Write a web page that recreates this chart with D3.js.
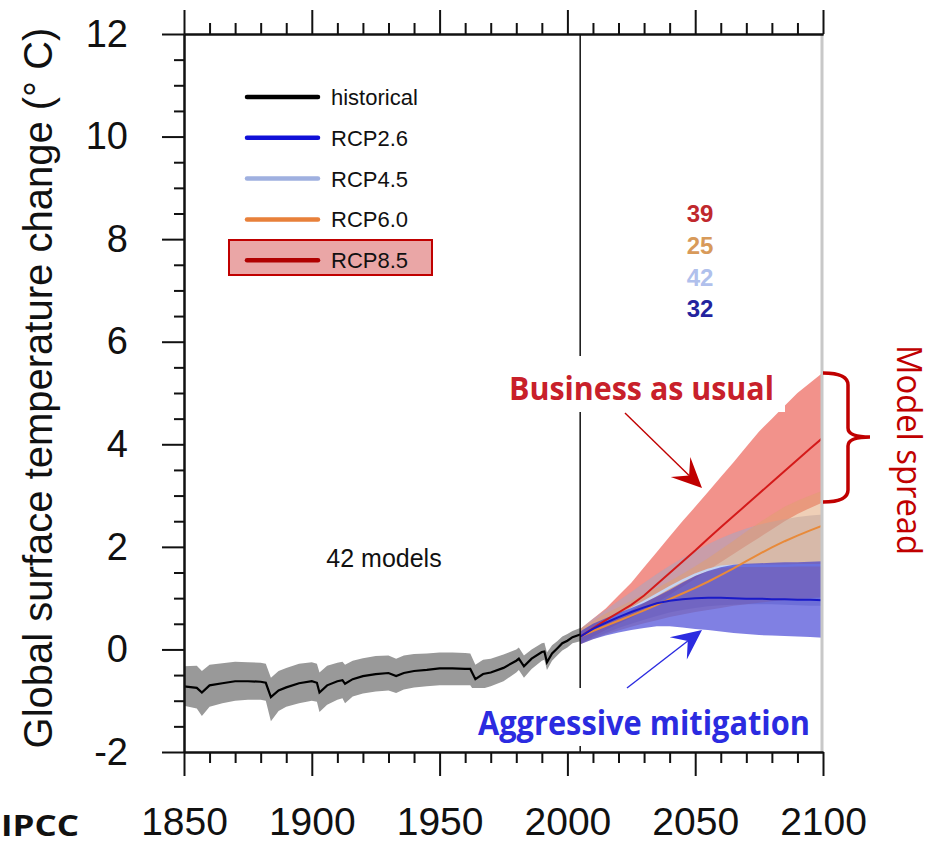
<!DOCTYPE html>
<html>
<head>
<meta charset="utf-8">
<script src="https://cdn.jsdelivr.net/npm/d3@7"></script>
<style>
  html, body { margin: 0; padding: 0; background: #fff; }
  svg { display: block; }
  .tick text { font-family: "Liberation Sans", Arial, sans-serif; fill: #111; }
</style>
</head>
<body>
<div id="chart"></div>
<script>
// historical ensemble (1850-2005)
const histYears = [1850, 1855, 1857, 1860, 1865, 1870, 1875, 1880, 1882, 1884, 1887, 1890, 1895, 1900, 1902, 1903, 1906, 1910, 1912, 1913, 1916, 1920, 1925, 1930, 1933, 1936, 1940, 1945, 1950, 1955, 1960, 1962, 1964, 1967, 1970, 1975, 1980, 1981, 1983, 1986, 1990, 1991, 1992, 1994, 1996, 1998, 2000, 2002, 2005];
const histMean = [-0.72, -0.75, -0.84, -0.70, -0.66, -0.62, -0.62, -0.63, -0.65, -0.93, -0.80, -0.74, -0.66, -0.62, -0.65, -0.84, -0.70, -0.62, -0.60, -0.67, -0.58, -0.52, -0.48, -0.46, -0.52, -0.46, -0.42, -0.40, -0.37, -0.37, -0.38, -0.38, -0.58, -0.48, -0.45, -0.36, -0.22, -0.18, -0.33, -0.18, -0.05, -0.04, -0.25, -0.08, 0.02, 0.12, 0.17, 0.24, 0.29];
const histHigh = [-0.33, -0.32, -0.42, -0.30, -0.27, -0.24, -0.25, -0.26, -0.28, -0.55, -0.42, -0.36, -0.28, -0.25, -0.28, -0.45, -0.32, -0.26, -0.24, -0.30, -0.22, -0.17, -0.13, -0.12, -0.18, -0.12, -0.09, -0.08, -0.06, -0.06, -0.07, -0.08, -0.30, -0.20, -0.18, -0.10, 0.00, 0.04, -0.12, 0.00, 0.12, 0.13, -0.06, 0.08, 0.16, 0.25, 0.30, 0.36, 0.42];
const histLow = [-1.10, -1.15, -1.30, -1.12, -1.05, -1.00, -0.98, -0.98, -1.00, -1.40, -1.20, -1.12, -1.05, -1.00, -1.02, -1.22, -1.08, -0.98, -0.95, -1.05, -0.92, -0.86, -0.82, -0.80, -0.85, -0.78, -0.74, -0.72, -0.70, -0.70, -0.70, -0.70, -0.85, -0.76, -0.72, -0.62, -0.45, -0.40, -0.55, -0.38, -0.22, -0.20, -0.40, -0.22, -0.12, -0.02, 0.04, 0.12, 0.16];

// scenario projections (2005-2100)
const futYears = [2005, 2010, 2015, 2020, 2025, 2030, 2035, 2040, 2045, 2050, 2055, 2060, 2065, 2070, 2075, 2080, 2085, 2090, 2095, 2100];
const rcp26Mean = [0.25, 0.40, 0.52, 0.63, 0.73, 0.82, 0.90, 0.95, 0.98, 1.00, 1.01, 1.01, 1.00, 0.99, 0.99, 0.98, 0.98, 0.97, 0.97, 0.96];
const rcp26Low = [0.10, 0.20, 0.27, 0.33, 0.38, 0.42, 0.45, 0.45, 0.43, 0.40, 0.38, 0.35, 0.32, 0.30, 0.28, 0.27, 0.26, 0.25, 0.24, 0.23];
const rcp26High = [0.35, 0.50, 0.61, 0.71, 0.81, 0.91, 1.03, 1.16, 1.30, 1.43, 1.53, 1.60, 1.65, 1.67, 1.68, 1.69, 1.70, 1.70, 1.71, 1.72];
const rcp45Mean = [0.25, 0.40, 0.53, 0.66, 0.79, 0.93, 1.07, 1.21, 1.34, 1.46, 1.55, 1.61, 1.63, 1.63, 1.63, 1.63, 1.63, 1.64, 1.64, 1.64];
const rcp45Low = [0.10, 0.22, 0.32, 0.42, 0.50, 0.58, 0.65, 0.72, 0.77, 0.81, 0.84, 0.86, 0.87, 0.88, 0.88, 0.88, 0.87, 0.86, 0.85, 0.85];
const rcp45High = [0.40, 0.60, 0.77, 0.95, 1.12, 1.30, 1.47, 1.63, 1.78, 1.92, 2.05, 2.17, 2.27, 2.36, 2.43, 2.49, 2.54, 2.58, 2.61, 2.63];
const rcp60Mean = [0.25, 0.36, 0.46, 0.56, 0.66, 0.76, 0.87, 0.98, 1.09, 1.20, 1.32, 1.45, 1.58, 1.72, 1.86, 1.99, 2.11, 2.22, 2.32, 2.42];
const rcp60Low = [0.10, 0.20, 0.29, 0.37, 0.44, 0.51, 0.57, 0.63, 0.68, 0.73, 0.77, 0.81, 0.85, 0.88, 0.91, 0.94, 0.96, 0.98, 1.00, 1.02];
const rcp60High = [0.40, 0.55, 0.70, 0.82, 0.95, 1.08, 1.20, 1.33, 1.47, 1.62, 1.78, 1.95, 2.12, 2.30, 2.47, 2.63, 2.78, 2.90, 3.00, 3.10];
const rcp85Mean = [0.25, 0.41, 0.57, 0.72, 0.87, 1.05, 1.27, 1.49, 1.71, 1.93, 2.16, 2.38, 2.60, 2.82, 3.04, 3.26, 3.48, 3.70, 3.92, 4.13];
const rcp85Low = [0.10, 0.25, 0.38, 0.50, 0.62, 0.76, 0.91, 1.06, 1.22, 1.38, 1.54, 1.70, 1.86, 2.02, 2.18, 2.34, 2.50, 2.64, 2.76, 2.87];
const rcp85High = [0.40, 0.60, 0.80, 1.05, 1.30, 1.60, 1.90, 2.20, 2.50, 2.78, 3.07, 3.36, 3.65, 3.95, 4.25, 4.50, 4.75, 5.00, 5.20, 5.40];

const xTicks = [1850, 1900, 1950, 2000, 2050, 2100];
const yTicks = [-2, 0, 2, 4, 6, 8, 10, 12];
const legendLabels = ["historical", "RCP2.6", "RCP4.5", "RCP6.0", "RCP8.5"];
const modelCounts = ["39", "25", "42", "32"];

const W = 935, H = 843;
const svg = d3.select("#chart").append("svg").attr("width", W).attr("height", H);

const x = d3.scaleLinear().domain([1850, 2100]).range([184, 823]);
const y = d3.scaleLinear().domain([-2, 12]).range([752, 34]);

svg.append("defs").append("clipPath").attr("id", "plot-clip")
  .append("rect").attr("x", 184).attr("y", 34).attr("width", 639).attr("height", 718);

const plot = svg.append("g").attr("clip-path", "url(#plot-clip)");

const rows = (years, lo, hi, mid) => years.map((yr, i) => ({ yr, lo: lo[i], hi: hi[i], mid: mid[i] }));
const area = d3.area().x(d => x(d.yr)).y0(d => y(d.lo)).y1(d => y(d.hi));
const line = d3.line().x(d => x(d.yr)).y(d => y(d.mid));

const hist = rows(histYears, histLow, histHigh, histMean);
const r26 = rows(futYears, rcp26Low, rcp26High, rcp26Mean);
const r45 = rows(futYears, rcp45Low, rcp45High, rcp45Mean);
const r60 = rows(futYears, rcp60Low, rcp60High, rcp60Mean);
const r85 = rows(futYears, rcp85Low, rcp85High, rcp85Mean);

// bands (RCP4.5 mean sits under the RCP2.6 band once it levels off)
plot.append("path").attr("d", area(hist)).attr("fill", "#999");
plot.append("path").attr("d", area(r85)).attr("fill", "#e8392b").attr("opacity", 0.55);
plot.append("path").attr("d", area(r45)).attr("fill", "#a0a8c8").attr("opacity", 0.5);
plot.append("path").attr("d", area(r60)).attr("fill", "#e0a070").attr("opacity", 0.5);
plot.append("path").attr("d", line(r45)).attr("fill", "none").attr("stroke", "#c4d4f2").attr("stroke-width", 2.5);
plot.append("path").attr("d", area(r26)).attr("fill", "#3232d2").attr("opacity", 0.62);

// means
plot.append("path").attr("d", line(hist)).attr("fill", "none").attr("stroke", "#000").attr("stroke-width", 2.2);
plot.append("path").attr("d", line(r60)).attr("fill", "none").attr("stroke", "#e88a3a").attr("stroke-width", 2);
plot.append("path").attr("d", line(r85)).attr("fill", "none").attr("stroke", "#d41a1a").attr("stroke-width", 2);
plot.append("path").attr("d", line(r26)).attr("fill", "none").attr("stroke", "#1a1ac8").attr("stroke-width", 2);

// 2005 divider and right edge
svg.append("line").attr("x1", x(2005)).attr("x2", x(2005)).attr("y1", 34).attr("y2", 752)
  .attr("stroke", "#111").attr("stroke-width", 1.5);
svg.append("line").attr("x1", 822).attr("x2", 822).attr("y1", 34).attr("y2", 752)
  .attr("stroke", "#c8c8c8").attr("stroke-width", 3);

// axes
function styleAxis(g) {
  g.select(".domain").attr("stroke", "#111").attr("stroke-width", 2);
  g.selectAll(".tick line").attr("stroke", "#111").attr("stroke-width", 2);
}
const minorX = d3.range(1850, 2101, 10).filter(v => v % 50 !== 0);
const minorY = d3.range(-2, 12.01, 0.5).filter(v => v % 2 !== 0);

svg.append("g").attr("transform", "translate(0,752)")
  .call(d3.axisBottom(x).tickValues(minorX).tickSize(11).tickFormat("").tickSizeOuter(0)).call(styleAxis);
svg.append("g").attr("transform", "translate(0,752)")
  .call(d3.axisBottom(x).tickValues(xTicks).tickSize(24).tickPadding(31).tickFormat(d => String(d)).tickSizeOuter(0)).call(styleAxis)
  .selectAll("text").attr("font-size", 39);

svg.append("g").attr("transform", "translate(0,34)")
  .call(d3.axisTop(x).tickValues(minorX).tickSize(11).tickFormat("").tickSizeOuter(0)).call(styleAxis);
svg.append("g").attr("transform", "translate(0,34)")
  .call(d3.axisTop(x).tickValues(xTicks).tickSize(24).tickFormat("").tickSizeOuter(0)).call(styleAxis);

svg.append("g").attr("transform", "translate(184,0)")
  .call(d3.axisLeft(y).tickValues(minorY).tickSize(10).tickFormat("").tickSizeOuter(0)).call(styleAxis);
svg.append("g").attr("transform", "translate(184,0)")
  .call(d3.axisLeft(y).tickValues(yTicks).tickSize(22).tickPadding(34).tickFormat(d => String(d)).tickSizeOuter(0)).call(styleAxis)
  .selectAll("text").attr("font-size", 38);

svg.append("text")
  .attr("transform", "translate(52,388) rotate(-90)")
  .attr("text-anchor", "middle")
  .attr("font-family", "Liberation Sans, Arial, sans-serif")
  .attr("font-size", 40).attr("fill", "#111")
  .text("Global surface temperature change (\u00b0 C)");

// legend
const legendColors = ["#000", "#1010d8", "#9fb0e0", "#e8803a", "#b00000"];
svg.append("rect").attr("x", 229).attr("y", 240).attr("width", 203).attr("height", 35)
  .attr("fill", "#eaa6a6").attr("stroke", "#c00000").attr("stroke-width", 2);
const leg = svg.append("g").selectAll("g").data(legendLabels).enter().append("g")
  .attr("transform", (d, i) => `translate(0,${97 + i * 40.8})`);
leg.append("line").attr("x1", 247).attr("x2", 318).attr("stroke-width", 4.5).attr("stroke-linecap", "round")
  .attr("stroke", (d, i) => legendColors[i]);
leg.append("text").attr("x", 331).attr("y", 8)
  .attr("font-family", "Liberation Sans, Arial, sans-serif").attr("font-size", 22).attr("fill", "#111")
  .text(d => d);

const countColors = ["#c0282d", "#d89a5a", "#b0c0ec", "#23239e"];
svg.append("g").selectAll("text").data(modelCounts).enter().append("text")
  .attr("x", 700).attr("y", (d, i) => 222 + i * 31.8)
  .attr("text-anchor", "middle")
  .attr("font-family", "Liberation Sans, Arial, sans-serif").attr("font-weight", "bold").attr("font-size", 24)
  .attr("fill", (d, i) => countColors[i])
  .text(d => d);

svg.append("text").attr("x", 384).attr("y", 567).attr("text-anchor", "middle")
  .attr("font-family", "Liberation Sans, Arial, sans-serif").attr("font-size", 25).attr("fill", "#111")
  .text("42 models");

// annotations
svg.append("rect").attr("x", 500).attr("y", 356).attr("width", 285).attr("height", 56).attr("fill", "#fff");
svg.append("rect").attr("x", 472).attr("y", 688).attr("width", 348).attr("height", 58).attr("fill", "#fff");

svg.append("text").attr("x", 509).attr("y", 400)
  .attr("font-family", "Open Sans, sans-serif").attr("font-weight", "bold").attr("font-size", 33)
  .attr("textLength", 265).attr("lengthAdjust", "spacingAndGlyphs")
  .attr("fill", "#c8202a").text("Business as usual");
svg.append("text").attr("x", 478).attr("y", 735)
  .attr("font-family", "Open Sans, sans-serif").attr("font-weight", "bold").attr("font-size", 34)
  .attr("textLength", 332).attr("lengthAdjust", "spacingAndGlyphs")
  .attr("fill", "#2b2be0").text("Aggressive mitigation");
svg.append("text").attr("transform", "translate(897,450) rotate(90)").attr("text-anchor", "middle")
  .attr("font-family", "Open Sans, sans-serif").attr("font-size", 34)
  .attr("textLength", 210).attr("lengthAdjust", "spacingAndGlyphs")
  .attr("fill", "#c00000").text("Model spread");
svg.append("text").attr("x", 1).attr("y", 836)
  .attr("font-family", "Open Sans, sans-serif").attr("font-weight", "bold").attr("font-size", 28)
  .attr("textLength", 78).attr("lengthAdjust", "spacingAndGlyphs")
  .attr("fill", "#111").text("IPCC");

// arrows
function arrow(x1, y1, x2, y2, color) {
  const ang = Math.atan2(y2 - y1, x2 - x1);
  const len = 30, half = 14, notch = 18;
  const g = svg.append("g").attr("transform", `translate(${x2},${y2}) rotate(${ang * 180 / Math.PI})`);
  const L = Math.hypot(x2 - x1, y2 - y1);
  g.append("line").attr("x1", -L).attr("x2", -notch).attr("stroke", color).attr("stroke-width", 1.4);
  g.append("path").attr("d", `M0,0 L${-len},${-half} L${-notch},0 L${-len},${half} Z`).attr("fill", color);
}
arrow(625, 413, 702, 488, "#c00000");
arrow(627, 688, 702, 630, "#2b2be0");

// brace
svg.append("path")
  .attr("d", "M823,373 Q848,373 848,385 L848,428 Q848,437 870,437 Q848,437 848,446 L848,490 Q848,502 823,502")
  .attr("fill", "none").attr("stroke", "#c00000").attr("stroke-width", 3.5);
</script>
</body>
</html>
